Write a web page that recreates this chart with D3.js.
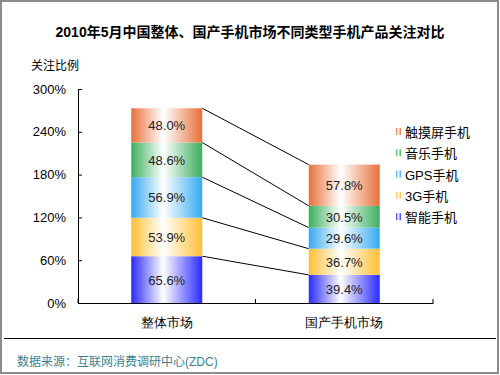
<!DOCTYPE html>
<html>
<head>
<meta charset="utf-8">
<script src="https://cdn.jsdelivr.net/npm/d3@7"></script>
<style>
  body { margin:0; background:#fff; }
  svg { display:block; font-family:"Liberation Sans", Arial, "Noto Sans CJK SC", sans-serif; }
</style>
</head>
<body>
<svg id="chart" width="500" height="375"></svg>
<script>
// categories & series
let markets = ["整体市场", "国产手机市场"];
let seriesNames = ["智能手机", "3G手机", "GPS手机", "音乐手机", "触摸屏手机"];
let seriesColors = ["#2a2aff", "#ffc035", "#36aaf2", "#3cae5e", "#e8703a"];
let wholeMarket = [65.6, 53.9, 56.9, 48.6, 48.0];
let domesticMarket = [39.4, 36.7, 29.6, 30.5, 57.8];
let yTicks = [0, 60, 120, 180, 240, 300];

let svg = d3.select("#chart");

// frame
svg.append("rect").attr("x",1).attr("y",1).attr("width",497).attr("height",372)
   .attr("fill","none").attr("stroke","#8c8c8c").attr("stroke-width",2);

svg.append("text").attr("x",250).attr("y",37).attr("text-anchor","middle")
   .attr("font-size",14).attr("font-weight","bold").attr("fill","#000")
   .text("2010年5月中国整体、国产手机市场不同类型手机产品关注对比");

svg.append("text").attr("x",31).attr("y",70).attr("font-size",12).attr("fill","#000")
   .text("关注比例");

let x = d3.scaleBand().domain(markets).range([78, 433]).paddingInner(0).paddingOuter(0);
let y = d3.scaleLinear().domain([0, 300]).range([303, 89]);
let barW = 71;

// gradients, one per series: colour at the edges, white near the middle
let defs = svg.append("defs");
seriesColors.forEach(function(c, i) {
  let g = defs.append("linearGradient").attr("id","grad"+i)
              .attr("x1","0%").attr("x2","100%").attr("y1","0%").attr("y2","0%");
  g.append("stop").attr("offset","0%").attr("stop-color",c);
  g.append("stop").attr("offset","45%").attr("stop-color","#ffffff");
  g.append("stop").attr("offset","100%").attr("stop-color",c);
});

let data = [wholeMarket, domesticMarket].map(function(vals, m) {
  let acc = 0;
  return vals.map(function(v, i) {
    let d = {market: markets[m], series: i, value: v, y0: acc, y1: acc + v};
    acc += v;
    return d;
  });
});

// connecting lines between stacked tops
let g = svg.append("g");
for (let i = 0; i < seriesNames.length; i++) {
  let a = data[0][i], b = data[1][i];
  g.append("line")
   .attr("x1", x(markets[0]) + x.bandwidth()/2 + barW/2).attr("y1", y(a.y1))
   .attr("x2", x(markets[1]) + x.bandwidth()/2 - barW/2).attr("y2", y(b.y1))
   .attr("stroke","#000").attr("stroke-width",1);
}

data.forEach(function(stack) {
  let bars = g.selectAll(null).data(stack).enter();
  bars.append("rect")
      .attr("x", d => x(d.market) + x.bandwidth()/2 - barW/2)
      .attr("y", d => y(d.y1))
      .attr("width", barW)
      .attr("height", d => y(d.y0) - y(d.y1))
      .attr("fill", d => "url(#grad"+d.series+")");
  bars.append("text")
      .attr("x", d => x(d.market) + x.bandwidth()/2)
      .attr("y", d => (y(d.y0) + y(d.y1))/2 + 5)
      .attr("text-anchor","middle").attr("font-size",13).attr("fill","#222")
      .text(d => d.value.toFixed(1) + "%");
});

// axes
let yAxis = svg.append("g").attr("transform","translate(78,0)")
  .call(d3.axisLeft(y).tickValues(yTicks).tickSize(-4).tickPadding(12).tickFormat(d => d + "%"));
yAxis.select(".domain").attr("stroke","#000");
yAxis.selectAll("text").attr("font-size",13).attr("fill","#000").attr("font-family","inherit");

let xAxis = svg.append("g").attr("transform","translate(0,303)")
  .call(d3.axisBottom(x).tickSize(0).tickPadding(15));
xAxis.select(".domain").attr("stroke","#000");
xAxis.selectAll("text").attr("font-size",13).attr("fill","#000").attr("font-family","inherit");
// band boundary ticks pointing up
[78, x(markets[1]), 433].forEach(function(t) {
  xAxis.append("line").attr("x1",t).attr("x2",t).attr("y1",0).attr("y2",-4).attr("stroke","#000");
});

// legend, top entry first
let legend = svg.append("g");
let order = d3.range(seriesNames.length).reverse();
order.forEach(function(s, k) {
  let ly = 132 + k * 21.3;
  legend.append("rect").attr("x",396).attr("y",ly - 4).attr("width",5).attr("height",7)
        .attr("fill","url(#grad"+s+")");
  legend.append("text").attr("x",405).attr("y",ly + 5).attr("font-size",13).attr("fill","#000")
        .text(seriesNames[s]);
});

// footer
svg.append("line").attr("x1",4).attr("x2",496).attr("y1",338.5).attr("y2",338.5)
   .attr("stroke","#000").attr("stroke-width",1);
svg.append("text").attr("x",17).attr("y",366).attr("font-size",12).attr("fill","#3d7f8f")
   .text("数据来源：互联网消费调研中心(ZDC)");
</script>
</body>
</html>
